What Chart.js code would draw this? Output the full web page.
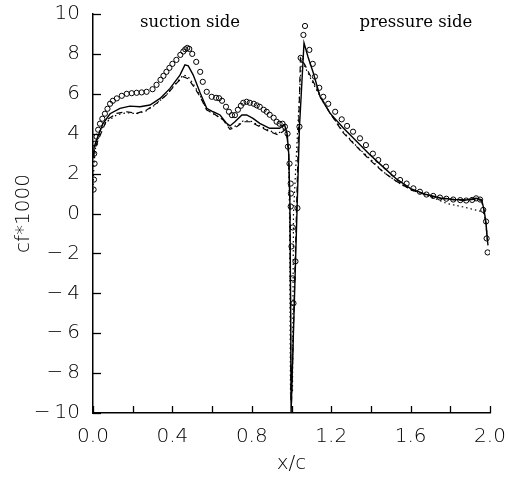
<!DOCTYPE html>
<html>
<head>
<meta charset="utf-8">
<script src="https://cdn.jsdelivr.net/npm/chart.js@4/dist/chart.umd.min.js"></script>
<style>
html,body{margin:0;padding:0;background:#fff;}
#wrap{width:508px;height:483px;}
</style>
</head>
<body>
<div id="wrap"><canvas id="c" width="508" height="483"></canvas></div>
<script>
// ---- data (x/c, cf*1000) ----
const circX = [0.003,0.005,0.008,0.006,0.01,0.018,0.026,0.035,0.047,0.06,0.073,0.086,0.1,0.12,0.145,0.17,0.195,0.22,0.245,0.27,0.3,0.32,0.34,0.355,0.37,0.385,0.40,0.42,0.44,0.455,0.465,0.475,0.485,0.5,0.52,0.54,0.553,0.573,0.598,0.62,0.635,0.65,0.67,0.685,0.70,0.715,0.73,0.745,0.757,0.774,0.79,0.81,0.825,0.84,0.86,0.875,0.89,0.91,0.925,0.94,0.955,0.967,0.98,0.982,0.99,0.996,0.997,0.996,1.006,1.0,1.02,1.006,1.01,
  1.03,1.04,1.046,1.06,1.068,1.09,1.107,1.118,1.14,1.16,1.185,1.22,1.253,1.28,1.31,1.345,1.375,1.41,1.437,1.476,1.513,1.547,1.58,1.614,1.647,1.68,1.714,1.748,1.78,1.815,1.85,1.88,1.91,1.93,1.95,1.966,1.98,1.983,1.988];
const circY = [1.2,1.7,2.5,3.0,3.5,3.85,4.2,4.5,4.75,5.0,5.25,5.5,5.65,5.77,5.9,6.0,6.03,6.05,6.07,6.1,6.23,6.45,6.7,6.9,7.1,7.3,7.5,7.7,7.95,8.12,8.23,8.3,8.25,8.0,7.6,7.1,6.6,6.1,5.85,5.8,5.78,5.65,5.35,5.1,4.93,4.93,5.2,5.4,5.55,5.6,5.55,5.5,5.42,5.35,5.2,5.1,4.95,4.8,4.6,4.5,4.5,4.35,4.0,3.35,2.5,1.5,1.0,0.35,-0.7,-1.65,-2.4,-3.25,-4.5,
  0.27,4.35,7.8,8.95,9.4,8.2,7.5,6.86,6.3,5.85,5.5,5.1,4.72,4.39,4.1,3.77,3.43,3.0,2.68,2.35,2.0,1.68,1.5,1.26,1.09,0.95,0.88,0.8,0.74,0.7,0.67,0.65,0.68,0.76,0.7,0.18,-0.4,-1.25,-1.95];

const solidX = [0.0,0.005,0.018,0.05,0.086,0.136,0.186,0.237,0.287,0.338,0.388,0.438,0.463,0.48,0.505,0.54,0.573,0.605,0.64,0.673,0.69,0.715,0.75,0.774,0.806,0.84,0.89,0.94,0.965,0.978,0.986,0.992,0.996,0.998,1.04,1.063,1.083,1.11,1.144,1.194,1.26,1.33,1.395,1.46,1.53,1.6,1.68,1.75,1.82,1.88,1.93,1.958,1.97,1.98,1.986,1.99];
const solidY = [2.8,3.3,3.7,4.5,5.0,5.27,5.38,5.35,5.44,5.77,6.27,6.94,7.45,7.4,6.94,6.04,5.27,5.1,4.94,4.52,4.39,4.6,4.94,4.94,4.77,4.52,4.27,4.27,4.45,4.0,3.0,0.5,-5.0,-10.0,4.3,8.55,7.86,7.04,5.85,5.03,4.3,3.6,2.95,2.35,1.72,1.25,0.95,0.78,0.7,0.68,0.76,0.68,0.18,-0.48,-1.25,-1.6];

const dashX = [0.0,0.01,0.027,0.069,0.12,0.17,0.22,0.27,0.32,0.37,0.42,0.455,0.48,0.505,0.54,0.573,0.605,0.656,0.69,0.724,0.757,0.79,0.84,0.89,0.93,0.955,0.968,0.978,0.986,0.993,0.997,1.0,1.03,1.045,1.068,1.11,1.152,1.19,1.26,1.328,1.395,1.46,1.53,1.6,1.68,1.75,1.82,1.88,1.93,1.958,1.97,1.98,1.986];
const dashY = [2.9,3.3,3.7,4.69,5.02,5.1,5.02,5.19,5.52,5.94,6.52,6.86,6.75,6.4,5.85,5.19,5.02,4.69,4.22,4.35,4.6,4.6,4.35,4.1,3.95,4.1,4.2,3.8,3.0,0.0,-9.5,-9.5,2.0,7.8,7.44,6.6,5.77,5.1,4.05,3.35,2.68,2.1,1.6,1.2,0.92,0.76,0.68,0.66,0.72,0.62,0.1,-0.6,-1.3];

const dotX = [0.0,0.005,0.015,0.03,0.07,0.12,0.17,0.22,0.27,0.32,0.37,0.42,0.455,0.48,0.505,0.54,0.573,0.605,0.656,0.69,0.724,0.757,0.79,0.84,0.89,0.93,0.96,0.975,0.985,0.99,0.995,1.005,1.01,1.03,1.05,1.07,1.11,1.15,1.19,1.26,1.33,1.4,1.46,1.53,1.6,1.7,1.78,1.86,1.95,1.97,1.98,1.986];
const dotY = [1.2,2.5,3.5,4.1,4.6,4.95,5.05,5.0,5.15,5.5,5.95,6.55,6.95,6.85,6.5,5.9,5.2,5.0,4.7,4.3,4.4,4.65,4.65,4.4,4.15,4.0,4.2,4.1,3.0,0.0,-9.0,-9.0,0.0,4.0,7.7,7.3,6.5,5.75,5.1,4.1,3.35,2.7,2.1,1.6,1.2,0.85,0.51,0.34,0.12,0.0,-0.5,-1.2];

const yTickValues = [10,8,6,4,2,0,-2,-4,-6,-8,-10];
const xLabelValues = [0.0,0.4,0.8,1.2,1.6,2.0];
const sideLabels = ['suction side','pressure side'];
const sideLabelX = [0.489,1.627];
const sideLabelY = [9.55,9.55];

function pts(xs, ys){ return xs.map((x,i)=>({x:x,y:ys[i]})); }

const tickFont = {family:'"DejaVu Sans", sans-serif', size:20, weight:'300'};

const inwardTicks = {
  id:'inwardTicks',
  afterDraw(chart){
    const ctx = chart.ctx, xs = chart.scales.x, ys = chart.scales.y, a = chart.chartArea;
    ctx.save();
    ctx.strokeStyle = '#000';
    ctx.lineWidth = 1.3;
    ys.ticks.forEach(t=>{
      const py = Math.round(ys.getPixelForValue(t.value))+0.5;
      ctx.beginPath(); ctx.moveTo(a.left, py); ctx.lineTo(a.left+8, py); ctx.stroke();
    });
    xs.ticks.forEach(t=>{
      const px = Math.round(xs.getPixelForValue(t.value))+0.5;
      ctx.beginPath(); ctx.moveTo(px, a.bottom); ctx.lineTo(px, a.bottom-7); ctx.stroke();
    });
    ctx.fillStyle = '#000';
    ctx.font = '16.5px "DejaVu Serif", serif';
    ctx.textAlign = 'center';
    ctx.textBaseline = 'middle';
    sideLabels.forEach((s,i)=>{
      ctx.fillText(s, xs.getPixelForValue(sideLabelX[i]), ys.getPixelForValue(sideLabelY[i]));
    });
    ctx.restore();
  }
};

new Chart(document.getElementById('c'), {
  type:'scatter',
  data:{
    datasets:[
      {label:'solid', data:pts(solidX,solidY), showLine:true, borderColor:'#000', borderWidth:1.4, pointRadius:0, tension:0, fill:false},
      {label:'dashed', data:pts(dashX,dashY), showLine:true, borderColor:'#000', borderWidth:1.2, borderDash:[6,4], pointRadius:0, tension:0, fill:false},
      {label:'dotted', data:pts(dotX,dotY), showLine:true, borderColor:'#000', borderWidth:1.2, borderDash:[1.5,3], pointRadius:0, tension:0, fill:false},
      {label:'circles', data:pts(circX,circY), showLine:false, borderColor:'#000', backgroundColor:'rgba(255,255,255,0)', borderWidth:1, pointRadius:2.6, pointStyle:'circle'}
    ]
  },
  options:{
    responsive:false,
    animation:false,
    events:[],
    layout:{padding:{top:14,right:18,left:0,bottom:0}},
    plugins:{legend:{display:false}, tooltip:{enabled:false}},
    scales:{
      x:{
        type:'linear', min:0, max:2,
        grid:{display:false, drawTicks:false},
        border:{display:true, color:'#000', width:1.5},
        ticks:{
          stepSize:0.2, autoSkip:false, maxRotation:0, padding:12, color:'#000', font:tickFont,
          callback:(v)=>{ const r=Math.round(v*10); return xLabelValues.some(l=>Math.round(l*10)===r) ? v.toFixed(1) : ''; }
        },
        title:{display:true, text:'x/c', color:'#000', font:tickFont, padding:{top:0,bottom:7}},
        afterFit:(s)=>{ s.height = 70; s.paddingLeft = 0; s.paddingRight = 0; }
      },
      y:{
        type:'linear', min:-10, max:10,
        grid:{display:false, drawTicks:false},
        border:{display:true, color:'#000', width:1.5},
        afterBuildTicks:(s)=>{ s.ticks = yTickValues.map(v=>({value:v})); },
        ticks:{
          padding:13, color:'#000', font:tickFont,
          callback:(v)=> v<0 ? '\u2212\u2009'+Math.abs(v) : String(v)
        },
        title:{display:true, text:'cf*1000', color:'#000', font:tickFont, padding:{top:12,bottom:0}},
        afterFit:(s)=>{ s.width = 93; s.paddingTop = 0; s.paddingBottom = 0; }
      }
    }
  },
  plugins:[inwardTicks]
});
</script>
</body>
</html>
